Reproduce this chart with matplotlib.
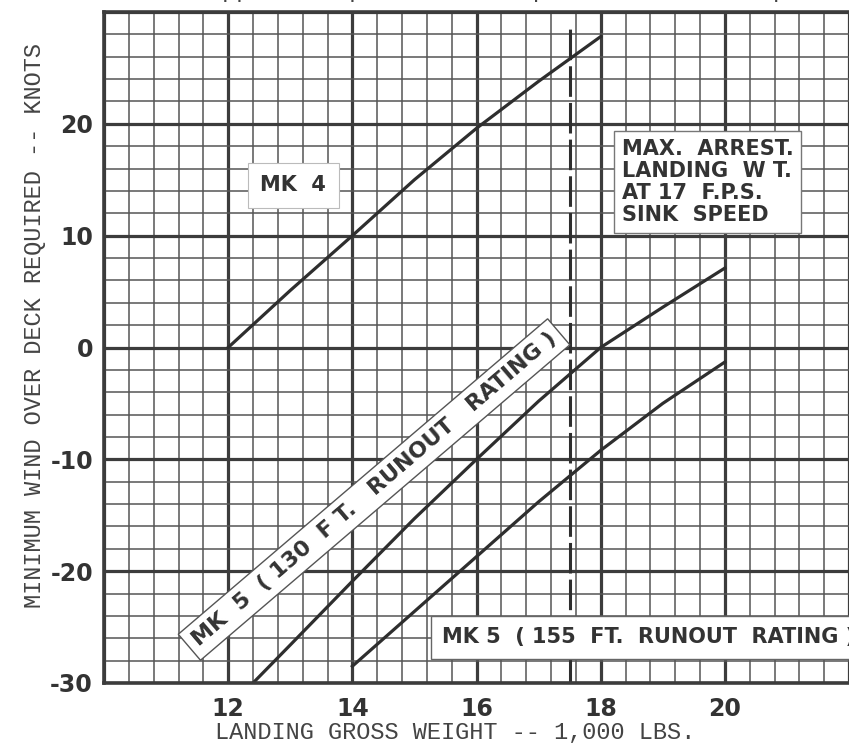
import matplotlib
matplotlib.use('Agg')
import matplotlib.pyplot as plt
from matplotlib.ticker import MultipleLocator

# landing gross weight (1,000 lbs) vs minimum wind over deck required (knots)
mk4_weight = [12, 13, 14, 15, 16, 17, 18]
mk4_wod = [0, 5.1, 10, 15, 19.6, 23.8, 27.8]

mk5_130_weight = [12.4, 13, 14, 15, 16, 17, 18, 19, 20]
mk5_130_wod = [-30, -26.6, -20.9, -15.3, -10, -4.8, 0, 3.6, 7.1]

mk5_155_weight = [14, 15, 16, 17, 18, 19, 20]
mk5_155_wod = [-28.5, -23.6, -18.7, -13.8, -9.2, -5.0, -1.3]

max_arrest_weight = 17.5

x_ticks = [10, 12, 14, 16, 18, 20, 22]
x_labels = ['', '12', '14', '16', '18', '20', '']
y_ticks = [-30, -20, -10, 0, 10, 20, 30]
y_labels = ['-30', '-20', '-10', '0', '10', '20', '']

ink = '#333333'
grid_major = '#3c3c3c'
grid_minor = '#555555'

fig = plt.figure(figsize=(8.49, 7.47), dpi=100)
ax = fig.add_axes([104 / 849, 64 / 747, 745 / 849, 671 / 747])
ax.set_xlim(10, 21.79)
ax.set_ylim(-30, 30)

# graph paper grid
ax.set_xticks(x_ticks)
ax.set_xticklabels(x_labels)
ax.set_yticks(y_ticks)
ax.set_yticklabels(y_labels)
ax.xaxis.set_minor_locator(MultipleLocator(0.4))
ax.yaxis.set_minor_locator(MultipleLocator(2))
ax.grid(which='minor', color=grid_minor, lw=1.1)
ax.grid(which='major', color=grid_major, lw=2.3)
ax.set_axisbelow(True)
ax.tick_params(which='both', length=0)
ax.tick_params(axis='x', pad=10)
ax.tick_params(axis='y', pad=8)
for lab in ax.get_xticklabels() + ax.get_yticklabels():
    lab.set_fontfamily('DejaVu Sans')
    lab.set_fontweight('bold')
    lab.set_fontsize(17)
    lab.set_color(ink)

for side in ['left', 'bottom', 'top']:
    ax.spines[side].set_linewidth(2.6)
    ax.spines[side].set_color(grid_major)
ax.spines['right'].set_visible(False)

# curves
ax.plot(mk4_weight, mk4_wod, color='#2e2e2e', lw=2.3)
ax.plot(mk5_130_weight, mk5_130_wod, color='#2e2e2e', lw=2.3)
ax.plot(mk5_155_weight, mk5_155_wod, color='#2e2e2e', lw=2.3)

# max arrest landing weight line
ax.axvline(max_arrest_weight, ymin=0, ymax=(28.8 + 30) / 60, color='#2e2e2e',
           lw=2.2, dashes=(10, 2))

lab_font = dict(family='DejaVu Sans', fontweight='bold', color=ink, zorder=5)

ax.text(13.05, 14.5, 'MK  4', fontsize=15, ha='center', va='center',
        bbox=dict(boxstyle='square,pad=0.6', fc='white', ec='#bbbbbb', lw=0.8),
        **lab_font)

ax.text(19.72, 14.8, 'MAX.  ARREST.\nLANDING  W T.\nAT 17  F.P.S.\nSINK  SPEED',
        fontsize=15, ha='center', va='center', multialignment='left',
        linespacing=1.12,
        bbox=dict(boxstyle='square,pad=0.38', fc='white', ec='#777777', lw=1.0),
        **lab_font)

ax.text(14.35, -12.7, 'MK  5  ( 130  F T.   RUNOUT   RATING )', fontsize=16,
        ha='center', va='center', rotation=40.5, rotation_mode='anchor',
        bbox=dict(boxstyle='square,pad=0.32', fc='white', ec='#555555', lw=1.0),
        **lab_font)

ax.text(15.45, -25.9, 'MK 5  ( 155  FT.  RUNOUT  RATING )', fontsize=15,
        ha='left', va='center',
        bbox=dict(boxstyle='square,pad=0.55', fc='white', ec='#666666', lw=1.0),
        **lab_font)

# typewritten axis titles
type_font = dict(family='Liberation Mono', fontsize=17, color='#444444')
fig.text(0.041, 0.5636, 'MINIMUM WIND OVER DECK REQUIRED -- KNOTS',
         rotation=90, ha='center', va='center', **type_font)
fig.text(0.536, 0.019, 'LANDING GROSS WEIGHT -- 1,000 LBS.',
         ha='center', va='center', **type_font)
# heading of the sheet, mostly cut off at the top edge of the scan
fig.text(0.245, 1.004, 'approach speed at      power off stall speed',
         ha='left', va='baseline', **type_font)

fig.savefig('out.png', dpi=100, facecolor='white')
